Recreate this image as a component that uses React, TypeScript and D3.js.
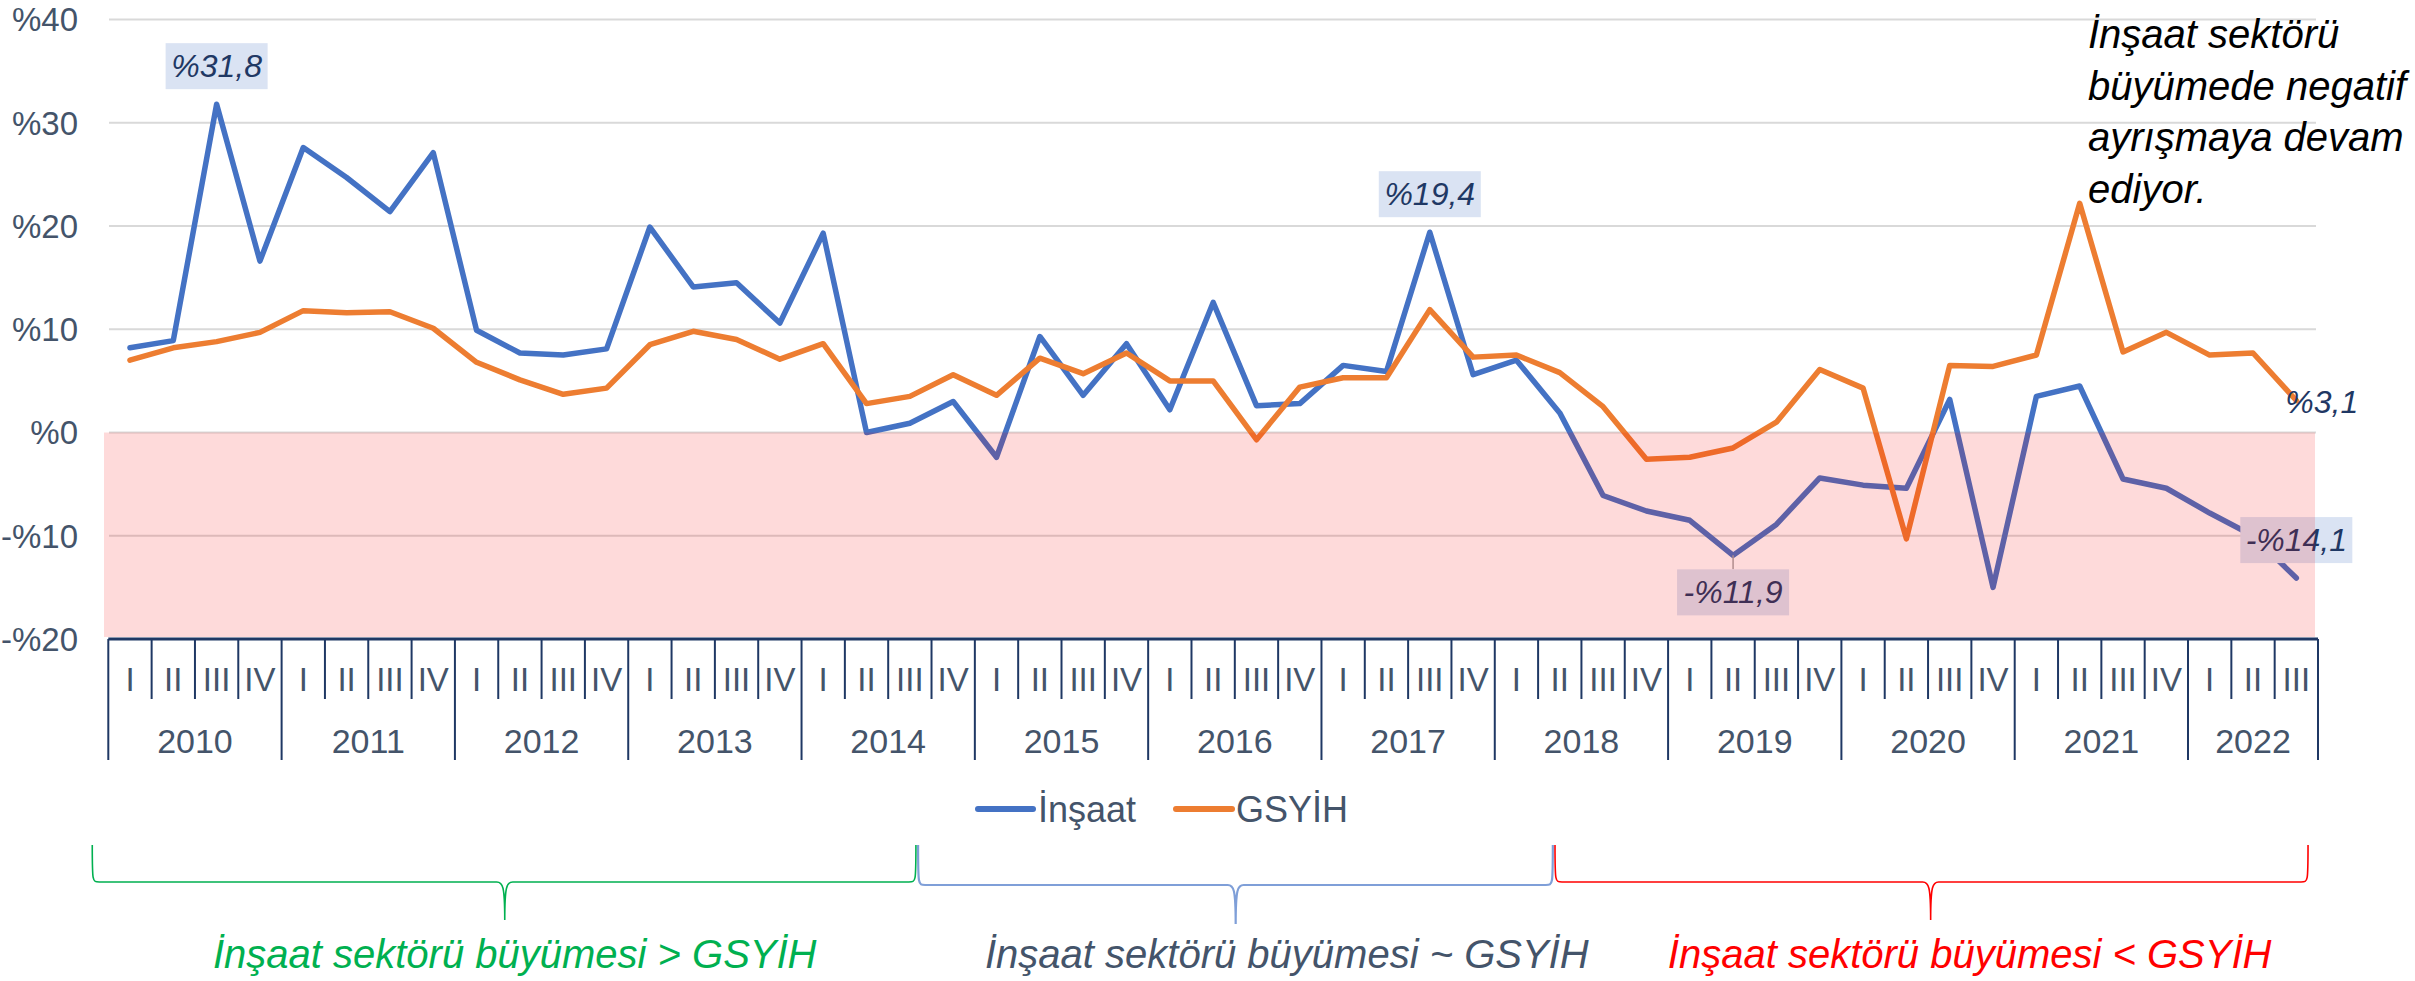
import * as d3 from "d3";

// quarterly growth, % (2010 Q1 .. 2022 Q3)
const years = ["2010", "2011", "2012", "2013", "2014", "2015", "2016", "2017", "2018", "2019", "2020", "2021", "2022"];
const quarters = ["I", "II", "III", "IV"];

const insaat = [
  8.2, 8.9, 31.8, 16.6, 27.6, 24.7, 21.4, 27.1, 9.9, 7.7, 7.5, 8.1, 19.9, 14.1, 14.5, 10.6,
  19.3, 0.0, 0.9, 3.0, -2.4, 9.3, 3.6, 8.6, 2.2, 12.6, 2.6, 2.8, 6.5, 5.9, 19.4, 5.6,
  7.0, 1.9, -6.1, -7.6, -8.5, -11.9, -8.9, -4.4, -5.1, -5.4, 3.2, -15.0, 3.5, 4.5, -4.5, -5.4,
  -7.8, -10.0, -14.1,
];
const gsyih = [
  7.0, 8.2, 8.8, 9.7, 11.8, 11.6, 11.7, 10.1, 6.8, 5.1, 3.7, 4.3, 8.5, 9.8, 9.0, 7.1,
  8.6, 2.8, 3.5, 5.6, 3.6, 7.2, 5.7, 7.7, 5.0, 5.0, -0.7, 4.4, 5.3, 5.3, 11.9, 7.3,
  7.5, 5.8, 2.5, -2.6, -2.4, -1.5, 1.0, 6.1, 4.3, -10.3, 6.5, 6.4, 7.5, 22.2, 7.8, 9.7,
  7.5, 7.7, 3.1,
];

const yTicks = [-20, -10, 0, 10, 20, 30, 40];

const seriesNames = ["İnşaat", "GSYİH"];

// which points get a value label
const labelled = [
  { s: 0, i: 2, pos: "above", box: true },
  { s: 0, i: 30, pos: "above", box: true },
  { s: 0, i: 37, pos: "below", box: true },
  { s: 0, i: 50, pos: "above", box: true },
  { s: 1, i: 50, pos: "right", box: false },
];

const note = ["İnşaat sektörü", "büyümede negatif", "ayrışmaya devam", "ediyor."];

const braceText = [
  "İnşaat sektörü büyümesi > GSYİH",
  "İnşaat sektörü büyümesi ~ GSYİH",
  "İnşaat sektörü büyümesi < GSYİH",
];
// brace spans in category units
const braceFrom = [-0.37, 18.69, 33.39];
const braceTo = [18.64, 33.34, 50.77];
const braceTip = [9.15, 26.02, 42.06];
const braceMid = [9.38, 27.2, 42.96];

const W = 2415;
const H = 981;
const font = "'Liberation Sans', Arial, sans-serif";
const navy = "#1F3864";
const grey = "#44546A";
const colors = ["#4472C4", "#ED7D31"];
const braceColors = ["#00B050", "#7F9FD8", "#FF0000"];
const braceTextColors = ["#00B050", "#44546A", "#FF0000"];

const fmt = (v: number) => (v < 0 ? "-" : "") + "%" + Math.abs(v).toFixed(1).replace(".", ",");

export default function App() {
  const series = [insaat, gsyih];
  const cats = years.flatMap((y) => quarters.map((q) => ({ y, q }))).slice(0, insaat.length);

  const x = d3.scaleBand<number>()
    .domain(d3.range(cats.length))
    .range([108.3, 2318])
    .padding(0);
  const bw = x.bandwidth();
  const cx = (i: number) => (x(i) as number) + bw / 2;
  const xAt = (t: number) => 108.3 + t * bw;

  const y = d3.scaleLinear().domain([-20, 40]).range([639, 19.5]);

  const line = d3.line<number>()
    .x((_, i) => cx(i))
    .y((d) => y(d));

  const axisY = y(-20);

  const bracePath = (i: number) => {
    const x1 = xAt(braceFrom[i]);
    const x2 = xAt(braceTo[i]);
    const xt = xAt(braceTip[i]);
    const yt = 845;
    const yl = i === 1 ? 885 : 882;
    const ytip = i === 1 ? 924 : 920;
    return `M${x1},${yt} C${x1},${yl} ${x1},${yl} ${x1 + 7},${yl} L${xt - 8},${yl} C${xt - 2},${yl} ${xt},${yl + 4} ${xt},${ytip}` +
      ` M${xt},${ytip} C${xt},${yl + 4} ${xt + 2},${yl} ${xt + 8},${yl} L${x2 - 7},${yl} C${x2},${yl} ${x2},${yl} ${x2},${yt}`;
  };

  return (
    <svg width={W} height={H} style={{ display: "block" }}>
      <style>{"body{margin:0}"}</style>
      <rect width={W} height={H} fill="#fff" />

      {/* grid */}
      {yTicks.filter((t) => t > -20).map((t) => (
        <line key={t} x1={109} x2={2316} y1={y(t)} y2={y(t)} stroke="#D9D9D9" strokeWidth={2} />
      ))}
      {yTicks.map((t) => (
        <text key={t} x={78} y={y(t)} dy="0.36em" textAnchor="end" fontFamily={font} fontSize={33} fill={grey}>
          {fmt(t).replace(",0", "")}
        </text>
      ))}

      {/* lines */}
      {series.map((s, k) => (
        <path key={k} d={line(s) as string} fill="none" stroke={colors[k]} strokeWidth={5.5} strokeLinejoin="round" strokeLinecap="round" />
      ))}

      {/* value labels */}
      {labelled.map((l, k) => {
        const v = series[l.s][l.i];
        const px = cx(l.i);
        const py = y(v);
        const t = fmt(v);
        const bwid = t.length * 10 + 52;
        const bh = 46;
        if (l.pos === "right") {
          return (
            <text key={k} x={px - 11} y={py + 12.5} fontFamily={font} fontStyle="italic" fontSize={32} fill={navy}>{t}</text>
          );
        }
        const by = l.pos === "above" ? py - 15 - bh : py + 14;
        return (
          <g key={k}>
            {l.pos === "below" && <line x1={px} x2={px} y1={py} y2={by} stroke="#A6A6A6" strokeWidth={1.5} />}
            <rect x={px - bwid / 2} y={by} width={bwid} height={bh} fill="#DAE3F3" />
            <text x={px} y={by + bh / 2 + 11} textAnchor="middle" fontFamily={font} fontStyle="italic" fontSize={32} fill={navy}>{t}</text>
          </g>
        );
      })}

      {/* negative zone overlay */}
      <rect x={104} y={y(0)} width={2315 - 104} height={637 - y(0)} fill="rgb(245,0,0)" fillOpacity={0.145} />

      {/* category axis */}
      <line x1={108.3} x2={2318} y1={axisY} y2={axisY} stroke={navy} strokeWidth={3} />
      {d3.range(cats.length + 1).map((i) => {
        const xx = i === cats.length ? 2318 : (x(i) as number);
        const long = i % 4 === 0 || i === cats.length;
        return <line key={i} x1={xx} x2={xx} y1={axisY} y2={long ? 760 : 699} stroke={navy} strokeWidth={2} />;
      })}
      {cats.map((c, i) => (
        <text key={i} x={cx(i)} y={691} textAnchor="middle" fontFamily={font} fontSize={33} fill={grey}>{c.q}</text>
      ))}
      {years.map((yr, k) => {
        const idx = cats.map((c, i) => (c.y === yr ? i : -1)).filter((i) => i >= 0);
        const x0 = x(idx[0]) as number;
        const x1 = (x(idx[idx.length - 1]) as number) + bw;
        return (
          <text key={yr} x={(x0 + x1) / 2} y={753} textAnchor="middle" fontFamily={font} fontSize={34} fill={grey}>{yr}</text>
        );
      })}

      {/* legend */}
      <line x1={978} x2={1033} y1={809} y2={809} stroke={colors[0]} strokeWidth={6} strokeLinecap="round" />
      <text x={1038} y={822} fontFamily={font} fontSize={36} fill={grey}>{seriesNames[0]}</text>
      <line x1={1176} x2={1232} y1={809} y2={809} stroke={colors[1]} strokeWidth={6} strokeLinecap="round" />
      <text x={1236} y={822} fontFamily={font} fontSize={36} fill={grey}>{seriesNames[1]}</text>

      {/* note */}
      {note.map((s, k) => (
        <text key={k} x={2088} y={48 + k * 51.7} fontFamily={font} fontStyle="italic" fontSize={40} fill="#000">{s}</text>
      ))}

      {/* braces */}
      {braceText.map((t, k) => (
        <g key={k}>
          <path d={bracePath(k)} fill="none" stroke={braceColors[k]} strokeWidth={k === 1 ? 2.2 : 1.6} />
          <text x={xAt(braceMid[k])} y={968} textAnchor="middle" fontFamily={font} fontStyle="italic" fontSize={40} fill={braceTextColors[k]}>{t}</text>
        </g>
      ))}
    </svg>
  );
}
